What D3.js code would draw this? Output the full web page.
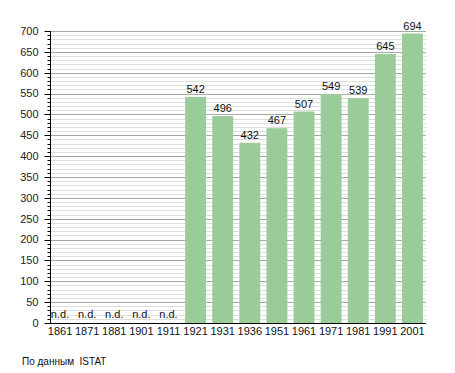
<!DOCTYPE html>
<html>
<head>
<meta charset="utf-8">
<script src="https://cdn.jsdelivr.net/npm/d3@7"></script>
<style>
  body { margin: 0; background: #fff; }
  svg { font-family: "Liberation Sans", Arial, sans-serif; }
</style>
</head>
<body>
<script>
// census years and population (null = no data)
var years = ["1861", "1871", "1881", "1901", "1911", "1921", "1931", "1936", "1951", "1961", "1971", "1981", "1991", "2001"];
var population = [null, null, null, null, null, 542, 496, 432, 467, 507, 549, 539, 645, 694];
var yTicks = [0, 50, 100, 150, 200, 250, 300, 350, 400, 450, 500, 550, 600, 650, 700];
var sourceText = "По данным  ISTAT";

var svgWidth = 455, svgHeight = 373;
var axisX = 50, plotRight = 426;

var svg = d3.select("body").append("svg")
  .attr("width", svgWidth)
  .attr("height", svgHeight);

var x = d3.scaleBand()
  .domain(years)
  .range([46.5, 426])
  .paddingInner(0.23)
  .paddingOuter(0.115);

var y = d3.scaleLinear()
  .domain([0, 700])
  .range([323, 31]);

// minor grid every 10
var minor = d3.range(10, 700, 10).filter(d => d % 50 !== 0);
svg.append("g").selectAll("line")
  .data(minor)
  .enter().append("line")
  .attr("x1", axisX).attr("x2", plotRight)
  .attr("y1", d => Math.round(y(d)) + 0.5)
  .attr("y2", d => Math.round(y(d)) + 0.5)
  .attr("stroke", "#dedede");

// major grid every 50
svg.append("g").selectAll("line")
  .data(yTicks.filter(d => d > 0))
  .enter().append("line")
  .attr("x1", axisX).attr("x2", plotRight)
  .attr("y1", d => Math.round(y(d)) + 0.5)
  .attr("y2", d => Math.round(y(d)) + 0.5)
  .attr("stroke", "#a8a8a8");

// bars
var data = years.map((d, i) => ({ year: d, value: population[i] }));

svg.append("g").selectAll("rect")
  .data(data.filter(d => d.value !== null))
  .enter().append("rect")
  .attr("x", d => x(d.year))
  .attr("y", d => y(d.value))
  .attr("width", x.bandwidth())
  .attr("height", d => y(0) - y(d.value))
  .attr("fill", "#99cc99");

// value labels
svg.append("g").selectAll("text")
  .data(data)
  .enter().append("text")
  .attr("x", d => x(d.year) + x.bandwidth() / 2)
  .attr("y", d => d.value === null ? y(0) - 5 : y(d.value) - 4)
  .attr("text-anchor", "middle")
  .style("font-size", "11px")
  .attr("fill", "#111")
  .text(d => d.value === null ? "n.d." : d.value);

// y axis with major + minor ticks
var yAxis = svg.append("g").attr("transform", `translate(${axisX + 0.5},0)`);
yAxis.append("line")
  .attr("y1", y(700)).attr("y2", y(0))
  .attr("stroke", "#000");
yAxis.selectAll(".minor")
  .data(d3.range(0, 701, 10))
  .enter().append("line")
  .attr("x1", -3).attr("x2", 0)
  .attr("y1", d => Math.round(y(d)) + 0.5)
  .attr("y2", d => Math.round(y(d)) + 0.5)
  .attr("stroke", "#000");
yAxis.selectAll(".major")
  .data(yTicks)
  .enter().append("line")
  .attr("x1", -6).attr("x2", 0)
  .attr("y1", d => Math.round(y(d)) + 0.5)
  .attr("y2", d => Math.round(y(d)) + 0.5)
  .attr("stroke", "#000");
yAxis.selectAll("text")
  .data(yTicks)
  .enter().append("text")
  .attr("x", -12)
  .attr("y", d => y(d))
  .attr("dy", "0.35em")
  .attr("text-anchor", "end")
  .style("font-size", "11px")
  .attr("fill", "#222")
  .text(d => d);

// x axis
svg.append("line")
  .attr("x1", axisX).attr("x2", plotRight)
  .attr("y1", Math.round(y(0)) + 0.5).attr("y2", Math.round(y(0)) + 0.5)
  .attr("stroke", "#000");

svg.append("g").selectAll("text")
  .data(years)
  .enter().append("text")
  .attr("x", d => x(d) + x.bandwidth() / 2)
  .attr("y", 335)
  .attr("text-anchor", "middle")
  .style("font-size", "11px")
  .attr("fill", "#111")
  .text(d => d);

svg.append("text")
  .attr("x", 22)
  .attr("y", 365)
  .style("font-size", "10px")
  .style("white-space", "pre")
  .attr("fill", "#111")
  .text(sourceText);
</script>
</body>
</html>
